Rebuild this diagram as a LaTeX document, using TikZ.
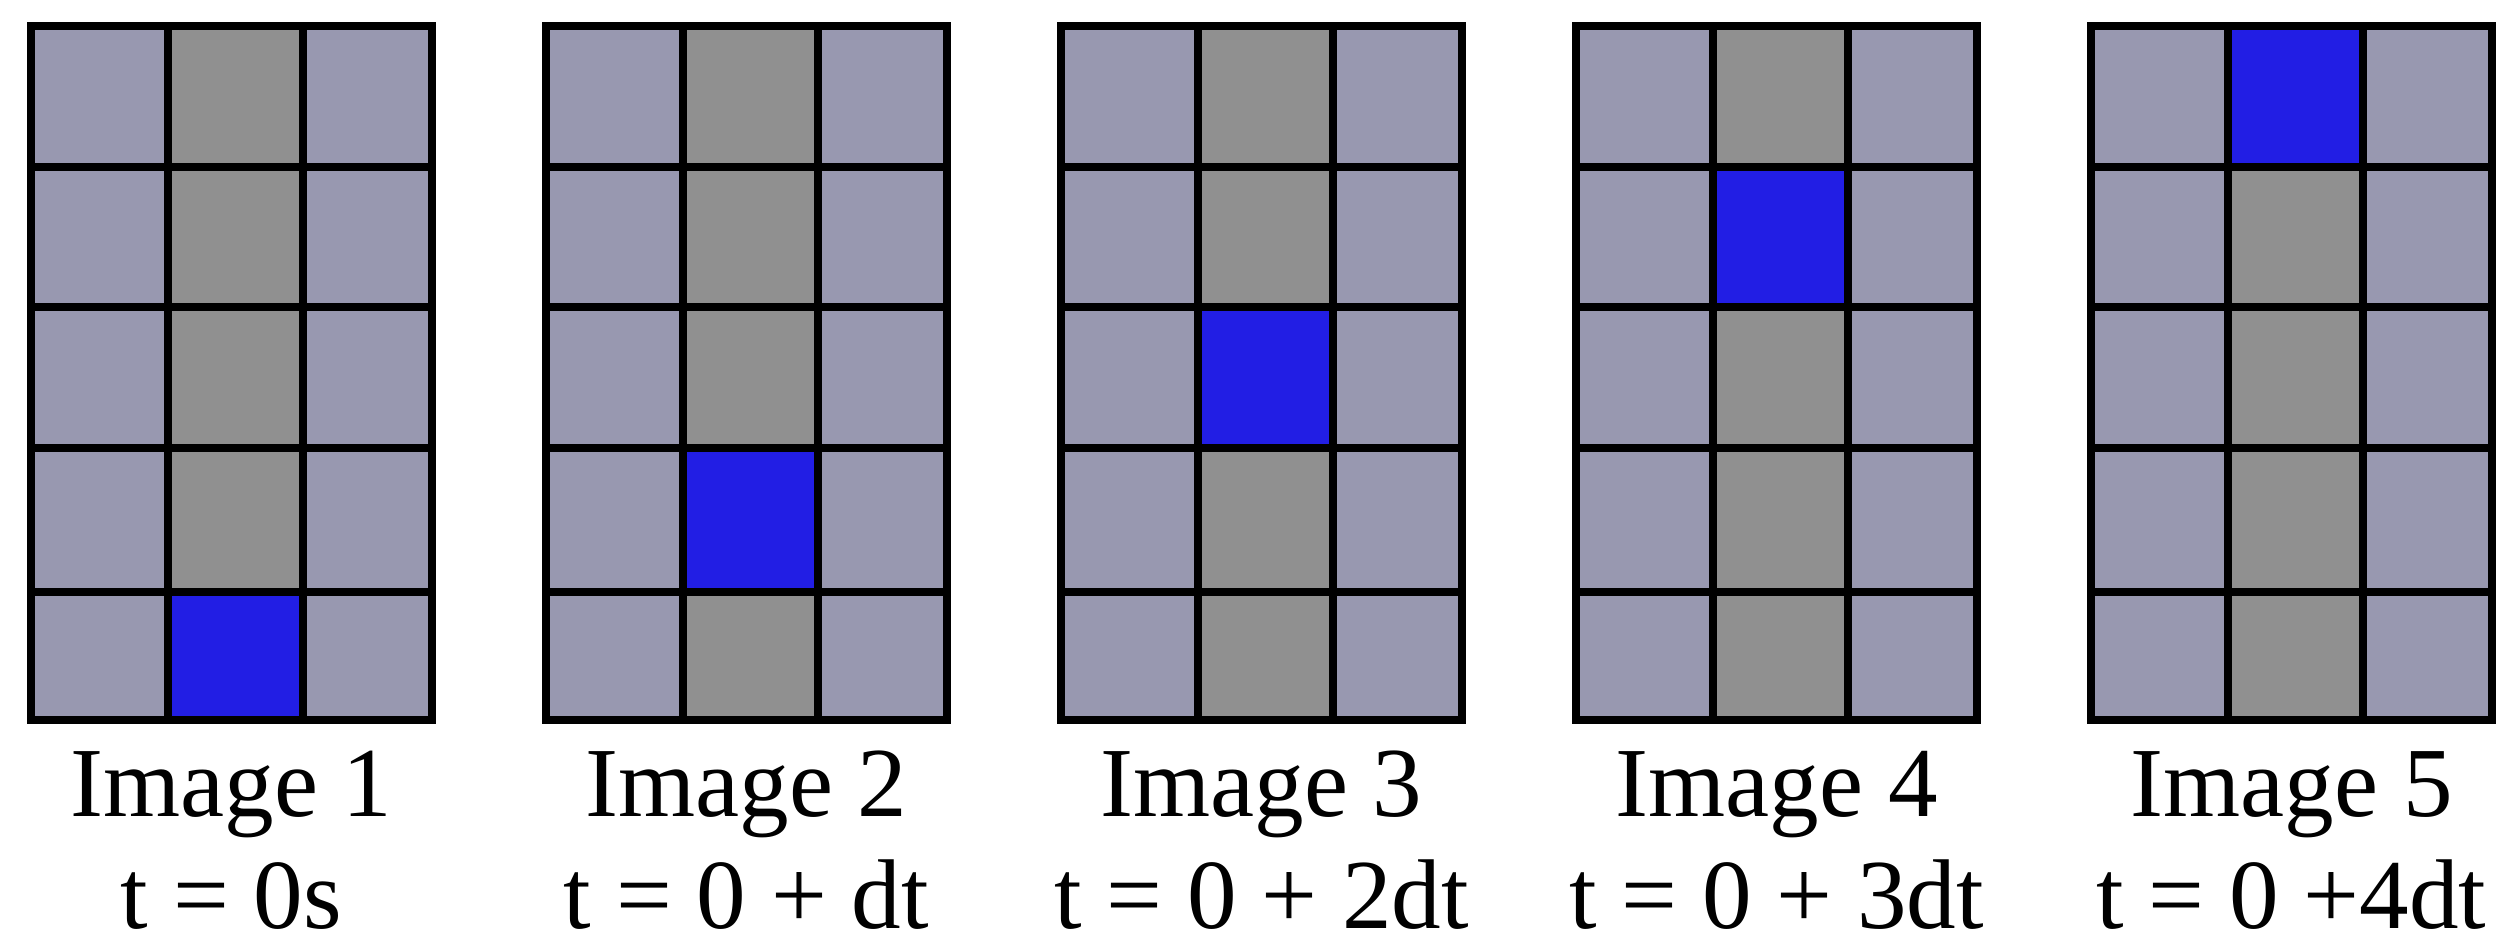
\documentclass[tikz,border=0pt]{standalone}
\usepackage{fontspec}
\setmainfont{Liberation Serif}
\definecolor{lav}{RGB}{152,152,176}
\definecolor{midgray}{RGB}{144,144,144}
\definecolor{hot}{RGB}{34,30,228}
\begin{document}
\begin{tikzpicture}[x=1cm,y=1cm,
  gridline/.style={line width=0.08cm, black, line join=miter},
  caption/.style={anchor=base, inner sep=0pt, font=\fontsize{28.2pt}{30pt}\selectfont}]
\useasboundingbox (0,0) rectangle (25.15,-9.45);
\foreach \k/\b/\n/\t in {0/5/1/{t = 0s}, 1/4/2/{t = 0 + dt}, 2/3/3/{t = 0 + 2dt}, 3/2/4/{t = 0 + 3dt}, 4/1/5/{t = 0 +4dt}} {
  \begin{scope}[xshift=\k*5.15cm]
    \foreach \c/\xa/\xb in {1/0.31/1.675, 2/1.675/3.03, 3/3.03/4.32} {
      \foreach \r/\ya/\yb in {1/-0.26/-1.67, 2/-1.67/-3.07, 3/-3.07/-4.48, 4/-4.48/-5.92, 5/-5.92/-7.20} {
        \ifnum\c=2
          \ifnum\r=\b \def\cc{hot}\else \def\cc{midgray}\fi
        \else
          \def\cc{lav}
        \fi
        \fill[\cc] (\xa,\ya) rectangle (\xb,\yb);
      }
    }
    \foreach \xx in {1.675, 3.03} \draw[gridline] (\xx,-0.26) -- (\xx,-7.20);
    \foreach \yy in {-1.67, -3.07, -4.48, -5.92} \draw[gridline] (0.31,\yy) -- (4.32,\yy);
    \draw[gridline] (0.31,-0.26) rectangle (4.32,-7.20);
    \node[caption] (title\n) at (2.315,-8.17) {Image \n};
    \node[caption] (time\n) at (2.315,-9.28) {\t};
  \end{scope}
}
\end{tikzpicture}
\end{document}
